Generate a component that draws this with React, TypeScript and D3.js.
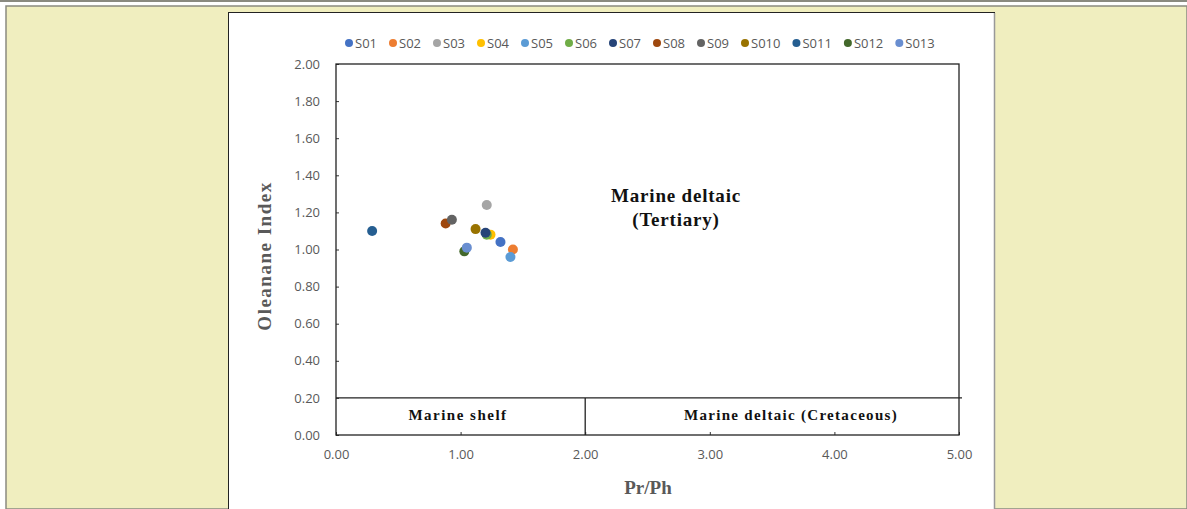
import React, { useEffect, useRef } from "react";
import * as d3 from "d3";

const samples = ["S01", "S02", "S03", "S04", "S05", "S06", "S07", "S08", "S09", "S010", "S011", "S012", "S013"];
const prPh = [1.32, 1.42, 1.21, 1.24, 1.4, 1.21, 1.2, 0.88, 0.93, 1.12, 0.29, 1.03, 1.05];
const oleanane = [1.04, 1.0, 1.24, 1.08, 0.96, 1.08, 1.09, 1.14, 1.16, 1.11, 1.1, 0.99, 1.01];
const colors = ["#4472C4", "#ED7D31", "#A5A5A5", "#FFC000", "#5B9BD5", "#70AD47", "#264478", "#9E480E", "#636363", "#997300", "#255E91", "#43682B", "#698ED0"];
const xTicks = [0, 1, 2, 3, 4, 5];
const yTicks = [0, 0.2, 0.4, 0.6, 0.8, 1.0, 1.2, 1.4, 1.6, 1.8, 2.0];

const App = () => {
  const ref = useRef<SVGSVGElement>(null);

  useEffect(() => {
    const svg = d3.select(ref.current);
    svg.selectAll("*").remove();

    const width = 1187;
    const height = 509;
    svg.attr("width", width).attr("height", height);

    // page frame
    svg.append("rect").attr("width", width).attr("height", height).attr("fill", "#ffffff");
    svg.append("rect").attr("x", 0).attr("y", 0).attr("width", width).attr("height", 2).attr("fill", "#8a8a80");
    svg.append("rect").attr("x", 6).attr("y", 6).attr("width", width - 6).attr("height", height - 6)
      .attr("fill", "#F0EEBF").attr("stroke", "#8a8a80").attr("stroke-width", 1.5);

    // chart box
    svg.append("rect").attr("x", 228.5).attr("y", 12.5).attr("width", 766).attr("height", 500)
      .attr("fill", "#ffffff").attr("stroke", "#222").attr("stroke-width", 1);
    svg.append("line").attr("x1", 994.5).attr("x2", 994.5).attr("y1", 13).attr("y2", height)
      .attr("stroke", "#999").attr("stroke-width", 1.5);

    const x = d3.scaleLinear().domain([0, 5]).range([336, 959]);
    const y = d3.scaleLinear().domain([0, 2]).range([435, 64]);
    const tickFont = "'Open Sans', 'Noto Sans', sans-serif";
    const serif = "'Liberation Serif', 'DejaVu Serif', serif";

    // y axis ticks (inward)
    const yAxis = d3.axisLeft(y).tickValues(yTicks).tickSize(-3).tickPadding(16).tickFormat(d3.format(".2f"));
    const gy = svg.append("g").attr("transform", `translate(${x(0)},0)`).call(yAxis);
    gy.select(".domain").remove();
    gy.selectAll("line").attr("stroke", "#333");
    gy.selectAll("text").attr("fill", "#595959").style("font-family", tickFont).style("font-size", "13px");

    const xAxis = d3.axisBottom(x).tickValues(xTicks).tickSize(-3).tickPadding(15).tickFormat(d3.format(".2f"));
    const gx = svg.append("g").attr("transform", `translate(0,${y(0)})`).call(xAxis);
    gx.select(".domain").remove();
    gx.selectAll("line").attr("stroke", "#333");
    gx.selectAll("text").attr("fill", "#595959").style("font-family", tickFont).style("font-size", "13px");

    // plot border and region lines
    svg.append("rect").attr("x", x(0)).attr("y", y(2)).attr("width", x(5) - x(0)).attr("height", y(0) - y(2))
      .attr("fill", "none").attr("stroke", "#222").attr("stroke-width", 1.3);
    svg.append("line").attr("x1", x(0)).attr("x2", x(5) + 3).attr("y1", y(0.2)).attr("y2", y(0.2))
      .attr("stroke", "#222").attr("stroke-width", 1.3);
    svg.append("line").attr("x1", x(2)).attr("x2", x(2)).attr("y1", y(0.2)).attr("y2", y(0))
      .attr("stroke", "#222").attr("stroke-width", 1.3);

    // region labels
    const label = (t: string, cx: number, cy: number, size: number, sp: number) =>
      svg.append("text").attr("x", cx).attr("y", cy).attr("text-anchor", "middle")
        .style("font-family", serif).style("font-weight", "bold").style("font-size", `${size}px`)
        .style("letter-spacing", `${sp}px`).attr("fill", "#111").text(t);
    label("Marine deltaic", 676, 202, 19, 0.8);
    label("(Tertiary)", 676, 226, 19, 0.8);
    label("Marine  shelf", 458, 420, 15, 1.5);
    label("Marine  deltaic  (Cretaceous)", 791, 420, 15, 1.3);

    // axis titles
    svg.append("text").attr("x", 648).attr("y", 494).attr("text-anchor", "middle")
      .style("font-family", serif).style("font-weight", "bold").style("font-size", "19px")
      .attr("fill", "#595959").text("Pr/Ph");
    svg.append("text").attr("transform", `translate(271,256) rotate(-90)`).attr("text-anchor", "middle")
      .style("font-family", serif).style("font-weight", "bold").style("font-size", "19px")
      .style("letter-spacing", "1.5px").attr("fill", "#595959").text("Oleanane Index");

    // points
    svg.append("g").selectAll("circle").data(samples).join("circle")
      .attr("cx", (d, i) => x(prPh[i]))
      .attr("cy", (d, i) => y(oleanane[i]))
      .attr("r", 5)
      .attr("fill", (d, i) => colors[i]);

    // legend
    const leg = svg.append("g").attr("transform", "translate(345,43)");
    let lx = 0;
    samples.forEach((s, i) => {
      const item = leg.append("g").attr("transform", `translate(${lx},0)`);
      item.append("circle").attr("cx", 4).attr("cy", 0).attr("r", 4).attr("fill", colors[i]);
      const t = item.append("text").attr("x", 10).attr("y", 5)
        .style("font-family", tickFont).style("font-size", "13px").attr("fill", "#595959").text(s);
      const w = (t.node() as SVGTextElement).getComputedTextLength();
      lx += 10 + w + 12;
    });
  }, []);

  return (
    <div style={{ position: "fixed", left: 0, top: 0 }}>
      <svg ref={ref} style={{ display: "block" }} />
    </div>
  );
};

export default App;
